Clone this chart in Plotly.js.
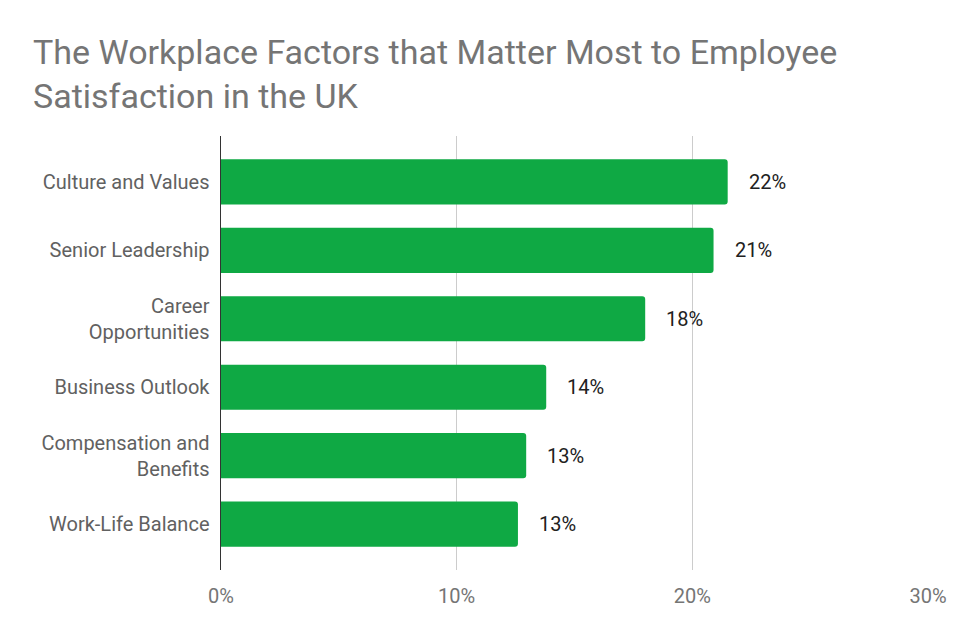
<!DOCTYPE html>
<html>
<head>
<meta charset="utf-8">
<script src="https://cdn.plot.ly/plotly-3.0.1.min.js"></script>
<style>
  html, body { margin: 0; padding: 0; background: #fff; }
  #chart { width: 959px; height: 639px; }
</style>
</head>
<body>
<div id="chart"></div>
<script>
// factors, top to bottom
const factors = [
  "Culture and Values",
  "Senior Leadership",
  "Career<br>Opportunities",
  "Business Outlook",
  "Compensation and<br>Benefits",
  "Work-Life Balance"
];
// share of employees (%)
const shares = [21.5, 20.9, 18.0, 13.8, 12.95, 12.6];
const shareLabels = ["22%", "21%", "18%", "14%", "13%", "13%"];
const xTicks = [0, 10, 20, 30];
const xTickText = ["0%", "10%", "20%", "30%"];

const FONT = "Roboto, 'Noto Sans', Arial, sans-serif";

const data = [
  {
    type: "bar",
    orientation: "h",
    x: shares,
    y: factors,
    width: 0.66,
    marker: { color: "#0fa944", cornerradius: 3 },
    hoverinfo: "none",
    showlegend: false
  }
];

// value labels to the right of each bar
let annotations = shares.map((v, i) => ({
  x: v,
  y: factors[i],
  xref: "x",
  yref: "y",
  text: shareLabels[i],
  showarrow: false,
  xanchor: "left",
  xshift: 19,
  font: { family: FONT, size: 20, color: "#212121" }
}));

const layout = {
  width: 959,
  height: 639,
  paper_bgcolor: "#fff",
  plot_bgcolor: "#fff",
  margin: { l: 221, r: 31, t: 136, b: 69 },
  title: {
    text: "The Workplace Factors that Matter Most to Employee<br>Satisfaction in the UK",
    x: 0,
    xref: "container",
    xanchor: "left",
    y: 0.9,
    yref: "container",
    yanchor: "top",
    pad: { l: 33 },
    font: { family: FONT, size: 34, color: "#757575" }
  },
  xaxis: {
    range: [0, 30],
    tickvals: xTicks,
    ticktext: xTickText,
    showgrid: true,
    gridcolor: "#cccccc",
    gridwidth: 1,
    zeroline: false,
    showline: false,
    ticks: "",
    ticklabelstandoff: 12,
    tickfont: { family: FONT, size: 20, color: "#757575" },
    fixedrange: true
  },
  yaxis: {
    type: "category",
    categoryorder: "array",
    categoryarray: factors,
    range: [5.67, -0.67],
    showgrid: false,
    zeroline: false,
    showline: true,
    linecolor: "#333333",
    linewidth: 1.5,
    ticks: "",
    ticklabelstandoff: 6,
    tickfont: { family: FONT, size: 20, color: "#616161" },
    fixedrange: true
  },
  annotations: annotations
};

Plotly.newPlot("chart", data, layout, { displayModeBar: false, staticPlot: true });
</script>
</body>
</html>
